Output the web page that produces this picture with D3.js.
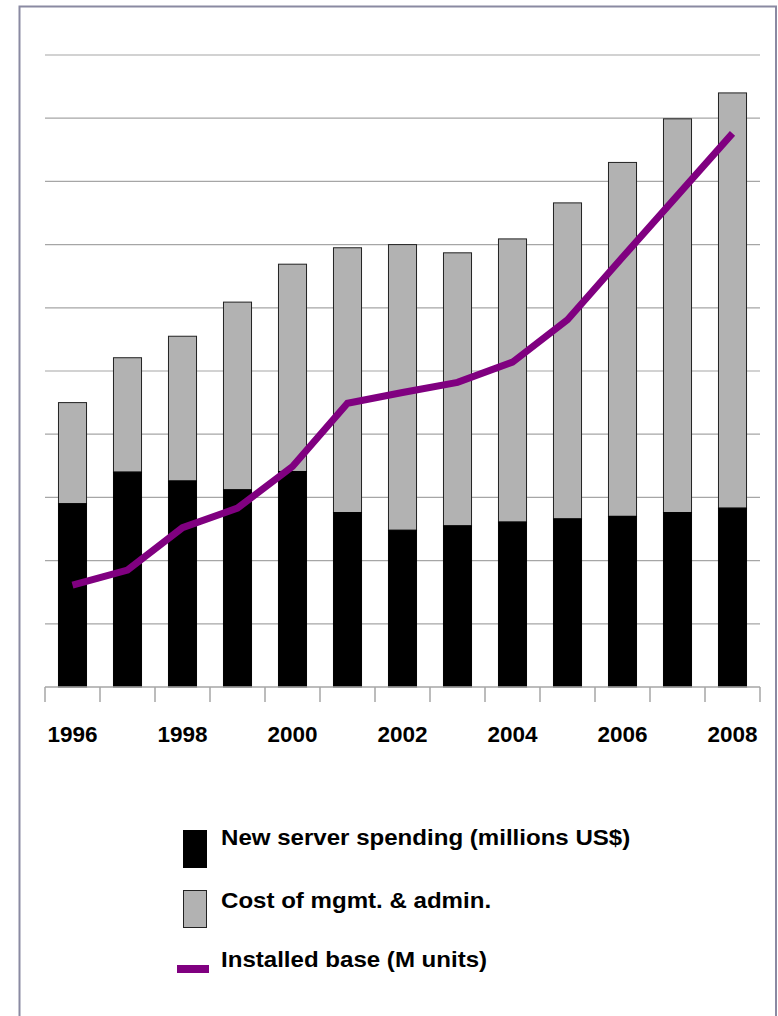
<!DOCTYPE html>
<html>
<head>
<meta charset="utf-8">
<script src="https://cdn.jsdelivr.net/npm/d3@7"></script>
<style>
  body { margin: 0; background: #fff; }
  text { font-family: "Liberation Sans", Arial, sans-serif; font-weight: bold; fill: #000; }
</style>
</head>
<body>
<main></main>
<script>
const years = [1996, 1997, 1998, 1999, 2000, 2001, 2002, 2003, 2004, 2005, 2006, 2007, 2008];
const newServer = [29.0, 34.0, 32.6, 31.2, 34.1, 27.6, 24.8, 25.5, 26.1, 26.6, 27.0, 27.6, 28.3];
const mgmtCost = [16.0, 18.1, 22.9, 29.7, 32.8, 41.9, 45.2, 43.2, 44.8, 50.0, 56.0, 62.3, 65.7];
const installedBase = [16.1, 18.5, 25.2, 28.3, 34.9, 44.9, 46.6, 48.2, 51.4, 58.1, 68.0, 77.8, 87.6];
const labelYears = [1996, 1998, 2000, 2002, 2004, 2006, 2008];
const legendLabels = ['New server spending (millions US$)', 'Cost of mgmt. & admin.', 'Installed base (M units)'];

const width = 778;
const height = 1016;

const svg = d3.select('main')
              .append('svg')
              .attr('width', width)
              .attr('height', height);

// frame, open at the bottom edge
svg.append('rect')
   .attr('x', 19.5)
   .attr('y', 6.5)
   .attr('width', 756.5)
   .attr('height', 1030)
   .attr('fill', 'none')
   .attr('stroke', '#8a8aa2')
   .attr('stroke-width', 2);

const xScale = d3.scaleBand()
                 .domain(years)
                 .range([45, 760])
                 .paddingInner(0.49)
                 .paddingOuter(0.245);

const yScale = d3.scaleLinear()
                 .domain([0, 100])
                 .range([687, 55]);

// gridlines
svg.selectAll('.grid')
   .data(yScale.ticks(10).filter(d => d > 0))
   .enter()
   .append('line')
   .attr('class', 'grid')
   .attr('x1', 45)
   .attr('x2', 760)
   .attr('y1', d => yScale(d))
   .attr('y2', d => yScale(d))
   .attr('stroke', '#a6a6a6')
   .attr('stroke-width', 1.2);

const barData = years.map((y, i) => ({ year: y, a: newServer[i], b: mgmtCost[i] }));

// grey part on top
svg.selectAll('.mgmt')
   .data(barData)
   .enter()
   .append('rect')
   .attr('class', 'mgmt')
   .attr('x', d => xScale(d.year))
   .attr('width', xScale.bandwidth())
   .attr('y', d => yScale(d.a + d.b))
   .attr('height', d => yScale(d.a) - yScale(d.a + d.b))
   .attr('fill', '#b2b2b2')
   .attr('stroke', '#222')
   .attr('stroke-width', 1);

svg.selectAll('.spend')
   .data(barData)
   .enter()
   .append('rect')
   .attr('class', 'spend')
   .attr('x', d => xScale(d.year))
   .attr('width', xScale.bandwidth())
   .attr('y', d => yScale(d.a))
   .attr('height', d => yScale(0) - yScale(d.a))
   .attr('fill', '#000')
   .attr('stroke', '#000')
   .attr('stroke-width', 1);

// x axis line + ticks on band edges
const step = xScale.step();
const edges = years.map(y => xScale(y) + xScale.bandwidth() / 2 - step / 2);
edges.push(xScale(years[years.length - 1]) + xScale.bandwidth() / 2 + step / 2);

svg.append('line')
   .attr('x1', edges[0])
   .attr('x2', edges[edges.length - 1])
   .attr('y1', yScale(0))
   .attr('y2', yScale(0))
   .attr('stroke', '#a6a6a6')
   .attr('stroke-width', 1.5);

svg.selectAll('.tick')
   .data(edges)
   .enter()
   .append('line')
   .attr('class', 'tick')
   .attr('x1', d => d)
   .attr('x2', d => d)
   .attr('y1', yScale(0))
   .attr('y2', yScale(0) + 15)
   .attr('stroke', '#a6a6a6')
   .attr('stroke-width', 1.5);

svg.selectAll('.xlabel')
   .data(labelYears)
   .enter()
   .append('text')
   .attr('class', 'xlabel')
   .attr('x', d => xScale(d) + xScale.bandwidth() / 2)
   .attr('y', 742)
   .attr('text-anchor', 'middle')
   .style('font-size', '22.5px')
   .text(d => d);

// installed base line
const line = d3.line()
               .x((d, i) => xScale(years[i]) + xScale.bandwidth() / 2)
               .y(d => yScale(d));

svg.append('path')
   .datum(installedBase)
   .attr('d', line)
   .attr('fill', 'none')
   .attr('stroke', '#800080')
   .attr('stroke-width', 7)
   .attr('stroke-linejoin', 'miter');

// legend
const legend = svg.append('g').attr('id', 'legend');

legend.append('rect')
      .attr('x', 183.5).attr('y', 830.5)
      .attr('width', 23).attr('height', 37)
      .attr('fill', '#000').attr('stroke', '#000');

legend.append('rect')
      .attr('x', 183.5).attr('y', 890.5)
      .attr('width', 23).attr('height', 37)
      .attr('fill', '#b2b2b2').attr('stroke', '#222');

legend.append('rect')
      .attr('x', 177).attr('y', 965)
      .attr('width', 32).attr('height', 8)
      .attr('fill', '#800080');

// the legend text is a little wider than the font, stretch it
legend.selectAll('.ltext')
      .data(legendLabels)
      .enter()
      .append('text')
      .attr('class', 'ltext')
      .attr('transform', (d, i) => `translate(221, ${[845, 908, 967][i]}) scale(1.095, 1)`)
      .style('font-size', '22px')
      .text(d => d);
</script>
</body>
</html>
